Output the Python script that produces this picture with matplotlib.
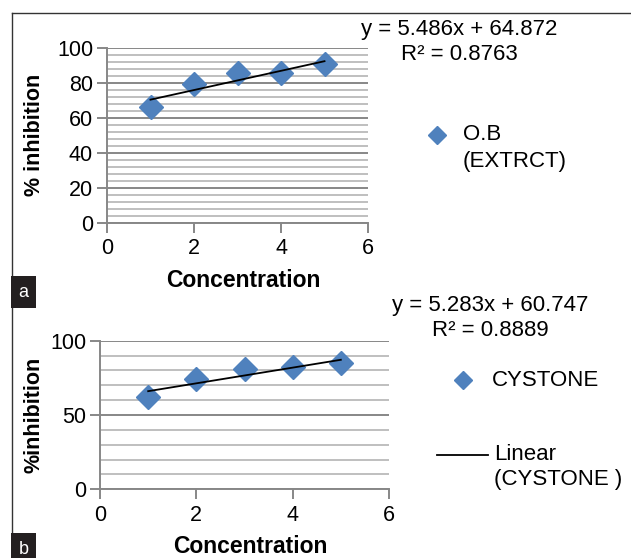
import matplotlib
matplotlib.use('Agg')
import matplotlib.pyplot as plt
from matplotlib.ticker import MultipleLocator
from matplotlib.lines import Line2D

plt.rcParams['font.family'] = ['Liberation Sans', 'DejaVu Sans']

# data
conc = [1, 2, 3, 4, 5]
ob_extract = [66.3, 79.1, 85.4, 85.7, 90.5]
cystone = [62.3, 74.2, 80.7, 82.1, 85.2]

# trendline: slope, intercept, R²
ob_fit = (5.486, 64.872, 0.8763)
cy_fit = (5.283, 60.747, 0.8889)

BLUE = '#4f81bd'
MAJ = '#878787'
MIN = '#bfbfbf'

W, H = 631, 558
fig = plt.figure(figsize=(W / 100, H / 100), dpi=100)


def fx(px):
    return px / W


def fy(py):
    return 1 - py / H


def panel(box, y, fit, major, minor, ylabel):
    left, top, right, bottom = box
    ax = fig.add_axes([fx(left), fy(bottom), fx(right - left), fy(top) - fy(bottom)])
    ax.plot(conc, y, 'D', color=BLUE, ms=12.5, mec=BLUE, zorder=4)
    m, b, r2 = fit
    xs = [conc[0], conc[-1]]
    ax.plot(xs, [m * v + b for v in xs], color='black', lw=1.3, zorder=5)
    ax.set_xlim(0, 6)
    ax.set_ylim(0, 100)
    ax.xaxis.set_major_locator(MultipleLocator(2))
    ax.yaxis.set_major_locator(MultipleLocator(major))
    ax.yaxis.set_minor_locator(MultipleLocator(minor))
    ax.grid(True, which='major', axis='y', color=MAJ, lw=1.4)
    ax.grid(True, which='minor', axis='y', color=MIN, lw=1.4)
    ax.set_axisbelow(True)
    for s in ['top', 'right']:
        ax.spines[s].set_visible(False)
    for s in ['left', 'bottom']:
        ax.spines[s].set_color(MAJ)
        ax.spines[s].set_linewidth(1.4)
    ax.tick_params(axis='both', which='major', color=MAJ, width=1.4,
                   length=7, labelsize=15.5)
    ax.tick_params(axis='y', which='major', pad=3)
    ax.tick_params(axis='x', which='major', pad=4)
    ax.tick_params(axis='y', which='minor', length=0)
    ax.set_ylabel(ylabel, fontsize=15.5, fontweight='bold')
    ax.set_xlabel('Concentration', fontsize=16.5, fontweight='bold', va='top')
    return ax, right - left, bottom - top


ax1, w1, h1 = panel((107, 47.7, 368, 223), ob_extract, ob_fit, 20, 4, '% inhibition')
ax1.yaxis.set_label_coords((45 - 107) / w1, 0.5)
ax1.xaxis.set_label_coords((243.5 - 107) / w1, (223 - 269) / h1)

ax2, w2, h2 = panel((100, 340.7, 389, 489.3), cystone, cy_fit, 50, 10, '%inhibition')
ax2.yaxis.set_label_coords((45 - 100) / w2, 0.5)
ax2.xaxis.set_label_coords((250.5 - 100) / w2, (489.3 - 535) / h2)

# trendline equations
for fit, cx, y1, y2 in [(ob_fit, 459, 30, 55), (cy_fit, 490, 306, 331)]:
    m, b, r2 = fit
    fig.text(fx(cx), fy(y1), f'y = {m}x + {b}', ha='center', va='center', fontsize=16)
    fig.text(fx(cx), fy(y2), f'R² = {r2}', ha='center', va='center', fontsize=16)

# legends
fig.lines.append(Line2D([fx(437)], [fy(135)], marker='D', ms=9.5, color=BLUE,
                        ls='none', transform=fig.transFigure))
fig.text(fx(463), fy(135), 'O.B', ha='left', va='center', fontsize=16)
fig.text(fx(463), fy(162), '(EXTRCT)', ha='left', va='center', fontsize=16)

fig.lines.append(Line2D([fx(463)], [fy(380)], marker='D', ms=9.5, color=BLUE,
                        ls='none', transform=fig.transFigure))
fig.text(fx(492), fy(380), 'CYSTONE', ha='left', va='center', fontsize=16)
fig.lines.append(Line2D([fx(437), fx(488)], [fy(455), fy(455)], color='black',
                        lw=1.3, transform=fig.transFigure))
fig.text(fx(494), fy(455), 'Linear', ha='left', va='center', fontsize=16)
fig.text(fx(494), fy(480), '(CYSTONE )', ha='left', va='center', fontsize=16)

# frame
fig.lines.append(Line2D([fx(12), 1], [fy(13), fy(13)], color='#333333', lw=1,
                        transform=fig.transFigure))
fig.lines.append(Line2D([fx(12), fx(12)], [fy(13), 0], color='#333333', lw=1,
                        transform=fig.transFigure))

# panel letters
for letter, yc in [('a', 292), ('b', 549)]:
    fig.text(fx(23.5), fy(yc), letter, ha='center', va='center', fontsize=13,
             color='white',
             bbox=dict(boxstyle='square,pad=0.4', fc='#231f20', ec='none'))

fig.savefig('out.png', dpi=100)
